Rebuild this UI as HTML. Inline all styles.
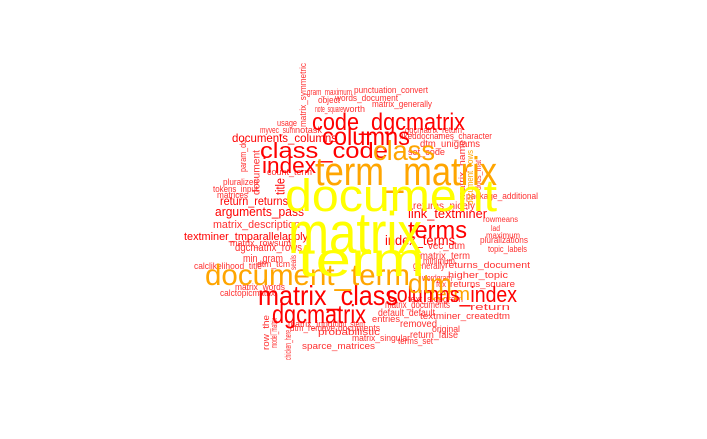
<!DOCTYPE html>
<html><head><meta charset="utf-8">
<style>
html,body{margin:0;padding:0;background:#fff;}
svg{display:block;}
text{font-family:"Liberation Sans",sans-serif;}
</style></head>
<body>
<svg id="cloud" width="707" height="439" viewBox="0 0 707 439" xmlns="http://www.w3.org/2000/svg"></svg>
<script>
const words = ["document","matrix","term","term_matrix","document_term","class","dtm","term",
"code_dgcmatrix","columns","class_code","index","matrix_class","dgcmatrix","columns_index","terms","index_terms",
"link_textminer","returns_nicely","package_additional","rowmeans","lad","maximum","pluralizations","topic_labels","vec_dtm",
"matrix_term","minimum","generally","returns_document","higher_topic","wordgram","returns_square","fox",
"text_skipgram","matrix_documents","return","default_default","entries","textminer_createdtm","removed","original",
"return_false","terms_set","matrix_singular","sparce_matrices","probabilistic",
"arguments_pass","matrix_description","textminer_tmparallelapply","matrix_rowsum","dgcmatrix_rows","min_gram",
"calclikelihood_title","dtm_tcm","matrix_words","calctopicmatrix","matrix_input","dtm_stem","dtm_remove","documents",
"gram_maximum","punctuation_convert","object","words_document","matrix_generally","note_square","worth","usage",
"myvec_sum","notask","documents_columns","dgcmatrix_return","likeddocnames_character","dtm_unigrams","set_code",
"pluralized","tokens_input","matrices","count_term","return_returns",
"matrix_symmetric","param_do","document","title","row_the","model_matrix","chicken_here","seals","matrix_name","document_rows","docs_mat"];
const xStart = [285,288,298,315,205,373,408,430,312,322,260,262,258,272,387,408,385,
408,413,466,483,491,486,480,488,428,420,423,413,445,448,422,450,436,
408,385,470,378,372,420,400,432,410,398,352,302,318,
215,213,184,230,235,243,194,257,235,220,288,335,290,338,
307,354,318,335,372,315,343,277,260,295,232,405,400,420,408,
223,213,217,267,220,
303,243,256,280,266,274,288,293,462,470,478];
const xEnd = [497,422,425,497,410,435,452,470,465,410,388,316,398,366,517,467,455,
487,475,538,518,500,520,528,527,465,470,455,445,530,508,452,515,446,
463,450,510,435,400,510,437,460,458,433,410,375,380,
304,300,308,291,302,283,262,290,285,275,335,365,335,380,
352,428,340,398,432,343,365,297,295,322,337,462,492,480,445,
258,258,248,312,288,
127,172,195,195,350,348,360,270,200,205,190];
const baseline = [211,253,276,185,285,160,293,300,130,145,158,173,305,323,302,238,245,
218,209,199,222,231,238,243,252,249,259,264,269,268,278,281,287,287,
302,308,310,316,322,319,327,332,338,344,341,349,335,
216,228,240,246,251,262,269,267,290,296,327,327,331,331,
95,93,103,101,107,112,112,126,133,133,142,133,139,147,155,
185,192,198,175,205,
63,140,150,178,315,318,330,255,140,150,160];
const fsize = [45,58,48,40,30,28,28,18,24,25,22,22,28,26,22,24,14,
13,10,9,8,8,8,9,9,10,10,9,10,9,9,9,9,8,
9,10,9,10,9,9,10,9,10,9,9,9,9,
13,11,11,9,11,11,9,9,9,9,9,9,9,9,
9,9,9,9,9,9,9,9,9,9,12,9,9,10,9,
9,9,9,9,12,
9,9,10,13,9,9,9,8,9,9,8];
const colorIdx = [0,0,0,1,1,1,1,1,2,2,2,2,2,2,2,2,2,
2,3,3,3,3,3,3,3,3,3,3,3,3,3,3,3,3,
3,3,3,3,3,3,3,3,3,3,3,3,3,
2,3,2,3,3,3,3,3,3,3,3,3,3,3,
3,3,3,3,3,3,3,3,3,3,2,3,3,3,3,
3,3,3,3,2,
3,3,3,2,3,3,3,3,3,1,3];
const rotated = [0,0,0,0,0,0,0,0,0,0,0,0,0,0,0,0,0,
0,0,0,0,0,0,0,0,0,0,0,0,0,0,0,0,0,
0,0,0,0,0,0,0,0,0,0,0,0,0,
0,0,0,0,0,0,0,0,0,0,0,0,0,0,
0,0,0,0,0,0,0,0,0,0,0,0,0,0,0,
0,0,0,0,0,
1,1,1,1,1,1,1,1,1,1,1];
const palette = ["#ffff00","#ffa500","#ff0000","#ff3030"];

const svg = document.getElementById('cloud');
const NS = "http://www.w3.org/2000/svg";
const order = words.map((w,i)=>i).sort((a,b)=>fsize[a]-fsize[b]);
order.forEach(i=>{
  const t = document.createElementNS(NS,'text');
  
  
  t.setAttribute('font-size', fsize[i]);
  t.setAttribute('fill', palette[colorIdx[i]]);
  t.setAttribute('lengthAdjust','spacingAndGlyphs');
  if (rotated[i]) {
    const len = xEnd[i] - baseline[i];
    t.setAttribute('transform', 'translate(' + (xStart[i] + fsize[i]*0.35) + ',' + xEnd[i] + ') rotate(-90)');
    t.setAttribute('x', 0);
    t.setAttribute('y', 0);
    t.setAttribute('textLength', len);
  } else {
    t.setAttribute('x', xStart[i]);
    t.setAttribute('y', baseline[i]);
    t.setAttribute('textLength', xEnd[i] - xStart[i]);
  }
  t.textContent = words[i];
  svg.appendChild(t);
});
</script>
</body></html>
